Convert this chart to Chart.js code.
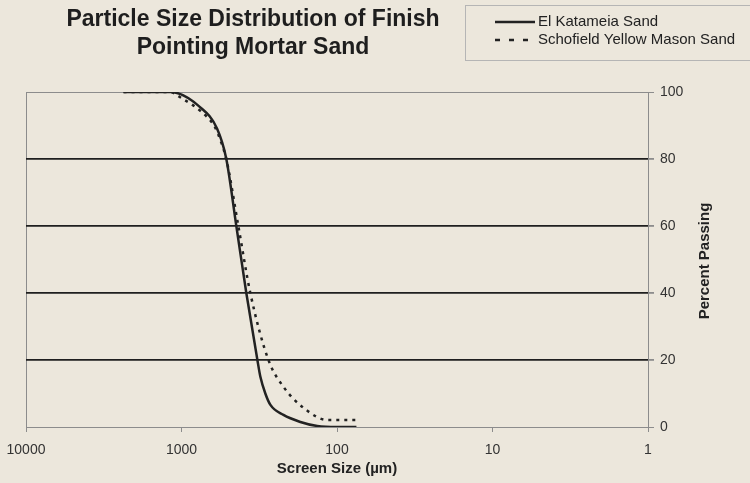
<!DOCTYPE html>
<html>
<head>
<meta charset="utf-8">
<script src="https://cdn.jsdelivr.net/npm/chart.js@4/dist/chart.umd.min.js"></script>
<style>
  html, body { margin: 0; padding: 0; background: #ece7dc; }
  #wrap { width: 750px; height: 483px; }
</style>
</head>
<body>
<div id="wrap"><canvas id="sieveChart" width="750" height="483"></canvas></div>
<script>
// screen sizes in micrometres, percent passing
const katameiaSizes = [2360, 1180, 760, 590, 515, 444, 383, 325, 311, 289, 268, 221, 172, 134, 100, 75];
const katameiaPassing = [100, 100, 95.5, 89, 80, 60, 40, 20, 15, 10, 6.6, 3.6, 1.5, 0.3, 0, 0];

const schofieldSizes = [2360, 1180, 1050, 673, 606, 563, 515, 431, 361, 276, 221, 164, 115, 75];
const schofieldPassing = [100, 100, 98.8, 92.2, 89.3, 85.7, 80, 60, 40, 20, 12, 5.7, 2.1, 2.1];

const xTicks = [10000, 1000, 100, 10, 1];
const seriesNames = ["El Katameia Sand", "Schofield Yellow Mason Sand"];

const ink = "#222";
const frame = "#8c8c8c";

Chart.defaults.font.family = "'Liberation Sans', Arial, sans-serif";
Chart.defaults.color = "#333";

function toPoints(xs, ys) {
  return xs.map((x, i) => ({ x: x, y: ys[i] }));
}

// title, legend box and the right-hand axis title are drawn by hand
const decorations = {
  id: "decorations",
  afterDraw(chart) {
    const ctx = chart.ctx;
    ctx.save();
    ctx.fillStyle = "#1e1e1e";
    ctx.textAlign = "center";
    ctx.textBaseline = "middle";
    ctx.font = "bold 23px 'Liberation Sans', Arial, sans-serif";
    ctx.fillText("Particle Size Distribution of Finish", 253, 20);
    ctx.fillText("Pointing Mortar Sand", 253, 48);

    // legend
    ctx.strokeStyle = "#b5b5b5";
    ctx.lineWidth = 1;
    ctx.strokeRect(465.5, 5.5, 300, 55);
    ctx.strokeStyle = ink;
    ctx.lineWidth = 2.5;
    ctx.beginPath();
    ctx.moveTo(495, 22);
    ctx.lineTo(535, 22);
    ctx.stroke();
    ctx.setLineDash([5, 9]);
    ctx.beginPath();
    ctx.moveTo(495, 40);
    ctx.lineTo(535, 40);
    ctx.stroke();
    ctx.setLineDash([]);
    ctx.fillStyle = ink;
    ctx.textAlign = "left";
    ctx.font = "15px 'Liberation Sans', Arial, sans-serif";
    ctx.fillText(seriesNames[0], 538, 22);
    ctx.fillText(seriesNames[1], 538, 40);

    // y axis title
    ctx.translate(705, 261);
    ctx.rotate(-Math.PI / 2);
    ctx.textAlign = "center";
    ctx.font = "bold 15px 'Liberation Sans', Arial, sans-serif";
    ctx.fillText("Percent Passing", 0, 0);
    ctx.restore();
  }
};

new Chart(document.getElementById("sieveChart"), {
  type: "line",
  data: {
    datasets: [
      {
        label: seriesNames[0],
        data: toPoints(katameiaSizes, katameiaPassing),
        borderColor: ink,
        borderWidth: 2.5,
        pointRadius: 0,
        cubicInterpolationMode: "monotone",
      },
      {
        label: seriesNames[1],
        data: toPoints(schofieldSizes, schofieldPassing),
        borderColor: ink,
        borderWidth: 2.5,
        borderDash: [3, 5],
        pointRadius: 0,
        cubicInterpolationMode: "monotone",
      },
    ],
  },
  options: {
    responsive: false,
    animation: false,
    layout: { padding: { top: 92, left: 26, right: 0, bottom: 0 } },
    plugins: {
      legend: { display: false },
      title: { display: false },
      tooltip: { enabled: false },
    },
    scales: {
      x: {
        type: "logarithmic",
        reverse: true,
        min: 1,
        max: 10000,
        afterBuildTicks: (scale) => {
          scale.ticks = xTicks.map((v) => ({ value: v }));
        },
        afterFit: (scale) => {
          scale.height = 56;
          scale.paddingLeft = 0;
          scale.paddingRight = 0;
        },
        ticks: {
          callback: (v) => String(v),
          font: { size: 14 },
          color: "#333",
          padding: 10,
          maxRotation: 0,
        },
        grid: {
          color: (c) => (c.tick && c.tick.value === 10000 ? frame : "rgba(0,0,0,0)"),
          tickColor: frame,
          tickLength: 5,
          lineWidth: 1,
        },
        border: { color: frame, width: 1 },
        title: {
          display: true,
          text: "Screen Size (µm)",
          color: ink,
          font: { size: 15, weight: "bold" },
          padding: { top: 0, bottom: 5 },
        },
      },
      y: {
        position: "right",
        min: 0,
        max: 100,
        afterFit: (scale) => {
          scale.width = 102;
        },
        ticks: {
          stepSize: 20,
          font: { size: 14 },
          color: "#333",
          padding: 6,
        },
        grid: {
          color: (c) => (c.tick && (c.tick.value === 0 || c.tick.value === 100) ? frame : "#1f1f1f"),
          lineWidth: (c) => (c.tick && (c.tick.value === 0 || c.tick.value === 100) ? 1 : 1.8),
          tickColor: frame,
          tickLength: 6,
        },
        border: { color: frame, width: 1 },
      },
    },
  },
  plugins: [decorations],
});
</script>
</body>
</html>
